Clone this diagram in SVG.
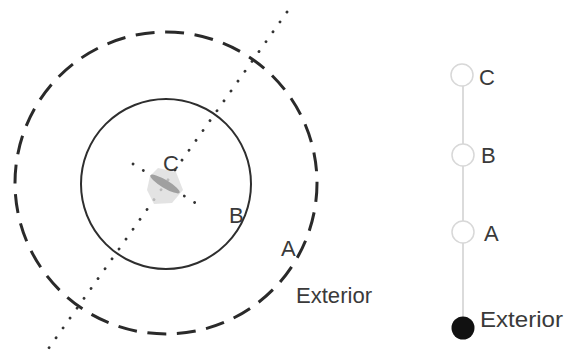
<svg xmlns="http://www.w3.org/2000/svg" width="566" height="356" viewBox="0 0 566 356">
<style>
.lbl{font-family:"Liberation Sans",Arial,sans-serif;fill:#3a3a3a;font-size:22px}
.dots{fill:none;stroke:#333;stroke-width:2.8;stroke-linecap:round;stroke-dasharray:0.1 12}
.stage{fill:#fff;stroke:#d8d8d8;stroke-width:1.5}
</style>
<rect width="566" height="356" fill="#fff"/>
<g id="connectors">
<line x1="287" y1="12" x2="46" y2="352" class="dots"/>
<line x1="133" y1="164" x2="197" y2="204" class="dots"/>
<line x1="463" y1="75" x2="463" y2="328" stroke="#cfcfcf" stroke-width="1.5"/>
</g>
<g id="region-exterior">
<circle cx="166" cy="183" r="151" fill="none" stroke="#2a2a2a" stroke-width="3" stroke-dasharray="19 10.6"/>
<text class="lbl" x="296" y="303" textLength="76" lengthAdjust="spacingAndGlyphs">Exterior</text>
</g>
<g id="region-a">
<text class="lbl" x="281" y="256">A</text>
</g>
<g id="region-b">
<circle cx="166" cy="184" r="85" fill="none" stroke="#2e2e2e" stroke-width="2"/>
<text class="lbl" x="229" y="223">B</text>
</g>
<g id="region-c">
<path d="M150,176 L158,168 L176,172 L183,190 L172,203 L154,204 L147,190 Z" fill="#dcdcdc" opacity="0.8"/>
<ellipse cx="165" cy="184" rx="17" ry="4" transform="rotate(31 165 184)" fill="#a0a0a0"/>
<text class="lbl" x="163" y="171">C</text>
</g>
<g id="legend-c">
<circle cx="462" cy="75" r="11" class="stage"/>
<text class="lbl" x="479" y="85">C</text>
</g>
<g id="legend-b">
<circle cx="463" cy="155" r="11" class="stage"/>
<text class="lbl" x="481" y="163">B</text>
</g>
<g id="legend-a">
<circle cx="463" cy="232" r="11" class="stage"/>
<text class="lbl" x="484" y="241">A</text>
</g>
<g id="legend-exterior">
<circle cx="463" cy="328" r="11.5" fill="#111"/>
<text class="lbl" x="480" y="327" textLength="83" lengthAdjust="spacingAndGlyphs">Exterior</text>
</g>
</svg>
